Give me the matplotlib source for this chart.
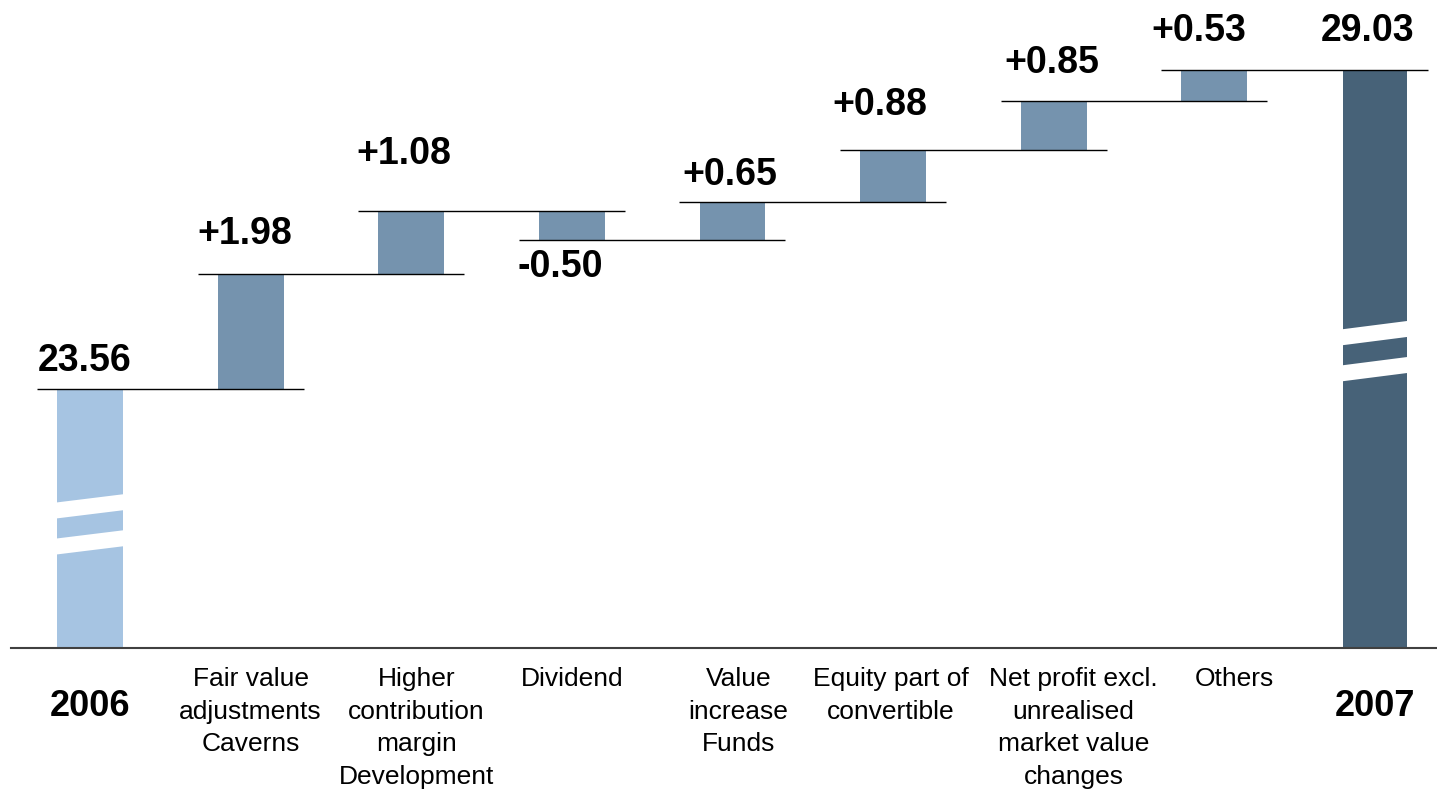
import matplotlib
matplotlib.use("Agg")
import matplotlib.pyplot as plt
from matplotlib.patches import Polygon

plt.rcParams['font.family'] = ['Liberation Sans', 'DejaVu Sans']

# Werte (Mio. / je Aktie)
start_label = "2006"
end_label = "2007"
start_value = 23.56
end_value = 29.03
step_labels = ["Fair value\nadjustments\nCaverns",
               "Higher\ncontribution\nmargin\nDevelopment",
               "Dividend",
               "Value\nincrease\nFunds",
               "Equity part of\nconvertible",
               "Net profit excl.\nunrealised\nmarket value\nchanges",
               "Others"]
step_values = [1.98, 1.08, -0.50, 0.65, 0.88, 0.85, 0.53]

# Stil
col_start = "#A6C4E2"
col_step = "#7593AE"
col_end = "#476278"
y_floor = 19.12          # Achse abgeschnitten
y_top = 30.23
bar_w = 0.41
conn_half = 0.33
# Versatz der Wertlabels in Pixeln (x, y ueber/unter Balkenkante)
val_dx = [-5, -6, -7, -12, -3, -13, -2, -15, -7]
val_dy = [18, 30, 47, -37, 17, 35, 28, 29, 29]
cat_dx = [0, 0, 5, 0, 6, -2, 20, 20, 0]

fig = plt.figure(figsize=(14.37, 7.92), dpi=100)
ax = fig.add_axes([0, 144 / 792, 1, 648 / 792])
ax.set_xlim(-0.5604, 8.387)
ax.set_ylim(y_floor, y_top)
ax.axis('off')

n = len(step_values) + 2
levels = [start_value]
for v in step_values:
    levels.append(levels[-1] + v)

# Startbalken
ax.bar(0, start_value - y_floor, bottom=y_floor, width=bar_w, color=col_start, zorder=2)
# Schrittbalken
for i, v in enumerate(step_values):
    x = i + 1
    lo = min(levels[i], levels[i + 1])
    ax.bar(x, abs(v), bottom=lo, width=bar_w, color=col_step, zorder=2)
# Endbalken
ax.bar(n - 1, end_value - y_floor, bottom=y_floor, width=0.395, color=col_end, zorder=2)

# Verbindungslinien
for i in range(n - 1):
    lev = levels[i] if i < len(levels) else end_value
    ax.plot([i - conn_half, i + 1 + conn_half], [lev, lev], color='black', lw=1.0, zorder=3,
            solid_capstyle='butt')

# Achsenbruch (weisse schraege Streifen)
def draw_break(x, yc, w):
    t = 0.137
    s = 0.073
    for off in (0.309, -0.309):
        c = yc + off
        x0, x1 = x - w / 2 - 0.01, x + w / 2 + 0.01
        pts = [(x0, c - s - t), (x1, c + s - t), (x1, c + s + t), (x0, c - s + t)]
        ax.add_patch(Polygon(pts, closed=True, facecolor='white', edgecolor='none', zorder=4))

draw_break(0, 21.24, bar_w)
draw_break(n - 1, 24.21, 0.395)

# Grundlinie
ax.axhline(y_floor, xmin=11 / 1437, xmax=1, color='#404040', lw=1.5, clip_on=False, zorder=5)

# Wertlabels
val_texts = [f"{start_value:.2f}"] + [f"{v:+.2f}" for v in step_values] + [f"{end_value:.2f}"]
anchors = [start_value]
for i, v in enumerate(step_values):
    anchors.append(min(levels[i], levels[i + 1]) if v < 0 else max(levels[i], levels[i + 1]))
anchors.append(end_value)
for i in range(n):
    ax.annotate(val_texts[i], xy=(i, anchors[i]), xytext=(val_dx[i], val_dy[i]),
                textcoords='offset pixels', ha='center', va='baseline',
                fontsize=27, fontweight='bold', color='black', annotation_clip=False)

# Kategorielabels
trans = ax.get_xaxis_transform()
ax.annotate(start_label, xy=(0, 0), xycoords=trans, xytext=(0, -68), textcoords='offset pixels',
            ha='center', va='baseline', fontsize=26, fontweight='bold', annotation_clip=False)
ax.annotate(end_label, xy=(n - 1, 0), xycoords=trans, xytext=(0, -68), textcoords='offset pixels',
            ha='center', va='baseline', fontsize=26, fontweight='bold', annotation_clip=False)
for i, lab in enumerate(step_labels):
    ax.annotate(lab, xy=(i + 1, 0), xycoords=trans, xytext=(cat_dx[i + 1], -19),
                textcoords='offset pixels', ha='center', va='top', multialignment='center',
                fontsize=19, linespacing=1.45, annotation_clip=False)

fig.savefig("out.png", dpi=100)
